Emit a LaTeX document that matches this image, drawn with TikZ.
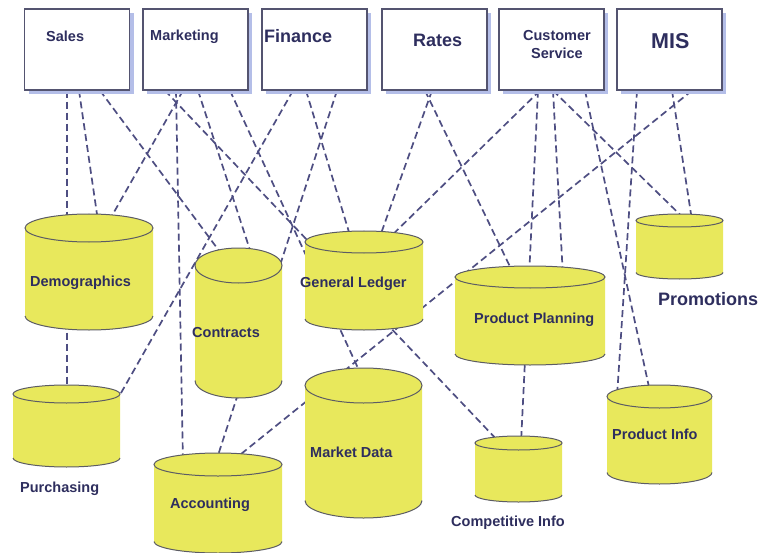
\documentclass[tikz,border=0pt]{standalone}
\usepackage{fontspec}
\setmainfont{Liberation Sans}
\usetikzlibrary{shadows}

\definecolor{ink}{RGB}{46,46,94}
\definecolor{boxline}{RGB}{84,84,112}
\definecolor{boxshade}{RGB}{180,190,232}
\definecolor{linkblue}{RGB}{78,78,130}
\definecolor{dbyellow}{RGB}{232,232,92}
\definecolor{dbline}{RGB}{92,92,100}

\pgfdeclarelayer{paper}
\pgfdeclarelayer{links}
\pgfsetlayers{paper,links,main}

\tikzset{
  dept/.style={draw=boxline, line width=1.1pt, fill=white, minimum width=105pt,
    minimum height=81pt, inner sep=0pt,
    drop shadow={shadow xshift=4pt, shadow yshift=-4pt, fill=boxshade, opacity=1}},
  link/.style={draw=linkblue, line width=1.7pt, dash pattern=on 7pt off 4pt},
  lbl/.style={text=ink, inner sep=0pt, anchor=base west,
    font=\bfseries\fontsize{14.5}{18}\selectfont},
  biglbl/.style={lbl, font=\bfseries\fontsize{18}{21}\selectfont},
  hugelbl/.style={lbl, font=\bfseries\fontsize{21.5}{24}\selectfont},
  storeanchor/.style={inner sep=0pt, outer sep=0pt, draw=none}
}

% Database cylinder: name, left x, right x, top-centre y, end radius (y), bottom-centre y
\newcommand{\dbstore}[6]{%
  \pgfmathsetmacro{\dbcx}{(#2+#3)/2}%
  \pgfmathsetmacro{\dbrx}{(#3-#2)/2}%
  \fill[dbyellow] (#2,#4) -- (#2,#6)
    arc[start angle=180, end angle=360, x radius=\dbrx pt, y radius=#5pt]
    -- (#3,#4)
    arc[start angle=0, end angle=180, x radius=\dbrx pt, y radius=#5pt] -- cycle;
  \draw[dbline, line width=1pt] (#2,#6)
    arc[start angle=180, end angle=360, x radius=\dbrx pt, y radius=#5pt];
  \draw[dbline, line width=1pt] (\dbcx,#4) ellipse[x radius=\dbrx pt, y radius=#5pt];
  \node[storeanchor, minimum width=2*\dbrx pt, minimum height=2*#5pt] (#1) at (\dbcx,#4) {};
}

\begin{document}
\begin{tikzpicture}[x=1pt, y=-1pt]
\useasboundingbox (0,0) rectangle (762,553);
\begin{pgfonlayer}{paper}
  \fill[white] (0,0) rectangle (762,553);
\end{pgfonlayer}

% departments
\node[dept] (sales) at (77,49.5) {};
\node[dept] (mkting) at (195.5,49.5) {};
\node[dept] (fin) at (314.5,49.5) {};
\node[dept] (rates) at (434.5,49.5) {};
\node[dept] (cust) at (551.5,49.5) {};
\node[dept] (mis) at (669.5,49.5) {};

\node[lbl] (tsales) at (46,42) {Sales};
\node[lbl] (tmkting) at (150,41) {Marketing};
\node[biglbl] (tfin) at (264,43) {Finance};
\node[biglbl] (trates) at (413,47) {Rates};
\node[lbl, anchor=north, align=center] (tcust) at (557,30.4) {Customer\\Service};
\node[hugelbl] (tmis) at (651,48.5) {MIS};

% data stores
\dbstore{demo}{25}{153}{228}{14}{316}
\dbstore{contr}{195}{282}{265.5}{17.5}{380.5}
\dbstore{gl}{305}{423}{242}{11}{319}
\dbstore{pp}{455}{605}{277}{11}{354}
\dbstore{promo}{636}{723}{220.5}{6.5}{272.5}
\dbstore{purch}{13}{120}{394}{9}{458}
\dbstore{acct}{154}{282}{464.5}{11.5}{541.5}
\dbstore{mkt}{305}{422}{385.5}{17.5}{500.5}
\dbstore{comp}{475}{562}{443}{7}{495}
\dbstore{pinfo}{607}{712}{396.5}{11.5}{472.5}

\node[lbl] (tdemo) at (30,286) {Demographics};
\node[lbl] (tcontr) at (192,337) {Contracts};
\node[lbl] (tgl) at (300,287) {General Ledger};
\node[lbl] (tpp) at (474,323) {Product Planning};
\node[biglbl] (tpromo) at (658,305) {Promotions};
\node[lbl] (tpurch) at (20,492) {Purchasing};
\node[lbl] (tacct) at (170,508) {Accounting};
\node[lbl] (tmkt) at (310,457) {Market Data};
\node[lbl] (tcomp) at (451,526) {Competitive Info};
\node[lbl] (tpinfo) at (612,439) {Product Info};

% connections, kept beneath boxes and stores
\begin{pgfonlayer}{links}
  % Sales
  \draw[link] ([xshift=-10pt]sales.south) -- ([xshift=0.5pt]purch.center);
  \draw[link] ([xshift=2pt]sales.south) -- ([xshift=10pt]demo.center);
  \draw[link] ([xshift=23pt]sales.south) -- ([xshift=-8.5pt]contr.center);
  % Marketing
  \draw[link] ([xshift=-30.5pt]mkting.south) -- ([xshift=-18.5pt]comp.center);
  \draw[link] ([xshift=-19.5pt]mkting.south) -- ([xshift=-35pt]acct.center);
  \draw[link] ([xshift=-12.5pt]mkting.south) -- ([xshift=16pt]demo.center);
  \draw[link] ([xshift=2.5pt]mkting.south) -- ([xshift=16.5pt]contr.center);
  \draw[link] ([xshift=34.5pt]mkting.south) -- ([xshift=2.5pt]mkt.center);
  % Finance
  \draw[link] ([xshift=-21.5pt]fin.south) -- ([xshift=50.5pt,yshift=-6pt]purch.center);
  \draw[link] ([xshift=-8.5pt]fin.south) -- ([xshift=-12pt]gl.center);
  \draw[link] ([xshift=22.5pt]fin.south) -- ([xshift=-3pt]acct.center);
  % Rates
  \draw[link] ([xshift=-9.5pt]rates.south) -- ([xshift=-15pt]pp.center);
  \draw[link] ([xshift=-2.5pt]rates.south) -- ([xshift=14pt]gl.center);
  % Customer Service
  \draw[link] ([xshift=-11.5pt]cust.south) -- ([xshift=21pt]gl.center);
  \draw[link] ([xshift=-13.5pt]cust.south) -- ([xshift=2.5pt]comp.center);
  \draw[link] ([xshift=1.5pt]cust.south) -- ([xshift=33pt]pp.center);
  \draw[link] ([xshift=1.5pt]cust.south) -- ([xshift=6.5pt]promo.center);
  \draw[link] ([xshift=33.5pt]cust.south) -- ([xshift=-8.5pt]pinfo.center);
  % MIS
  \draw[link] ([xshift=-32.5pt]mis.south) -- ([xshift=-42.5pt]pinfo.center);
  \draw[link] ([xshift=2.5pt]mis.south) -- ([xshift=12.5pt]promo.center);
  \draw[link] ([xshift=22.5pt]mis.south) -- ([xshift=10pt]acct.center);
\end{pgfonlayer}
\end{tikzpicture}
\end{document}
